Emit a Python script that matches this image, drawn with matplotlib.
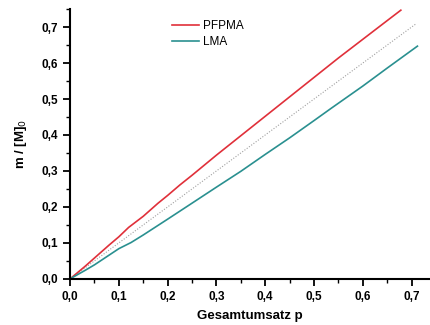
import matplotlib
matplotlib.use("Agg")
import matplotlib.pyplot as plt
from matplotlib.ticker import MultipleLocator, FuncFormatter

plt.rcParams['font.family'] = ['Liberation Sans', 'DejaVu Sans']

p_pfpma = [0.0, 0.03, 0.05, 0.08, 0.10, 0.12, 0.15, 0.18, 0.20, 0.225, 0.25, 0.30, 0.35, 0.40, 0.45, 0.50, 0.55, 0.60, 0.65, 0.678]
m_pfpma = [0.0, 0.034, 0.058, 0.094, 0.117, 0.143, 0.174, 0.210, 0.232, 0.261, 0.288, 0.344, 0.398, 0.452, 0.506, 0.560, 0.614, 0.666, 0.718, 0.747]

p_lma = [0.0, 0.03, 0.05, 0.08, 0.10, 0.125, 0.15, 0.20, 0.245, 0.30, 0.35, 0.40, 0.45, 0.50, 0.535, 0.60, 0.65, 0.712]
m_lma = [0.0, 0.023, 0.039, 0.066, 0.084, 0.101, 0.122, 0.166, 0.206, 0.255, 0.299, 0.346, 0.392, 0.440, 0.474, 0.536, 0.586, 0.647]

p_ref = [0.0, 0.71]
m_ref = [0.0, 0.71]

fig = plt.figure(figsize=(4.3, 3.25), dpi=100)
ax = fig.add_axes([0.163, 0.142, 0.835, 0.83])

ax.plot(p_ref, m_ref, color='#a0a0a0', lw=0.8, ls=(0, (1, 1.5)))
ax.plot(p_pfpma, m_pfpma, color='#e0303a', lw=1.2, label='PFPMA')
ax.plot(p_lma, m_lma, color='#2a9090', lw=1.2, label='LMA')

ax.set_xlim(0, 0.736)
ax.set_ylim(0, 0.75)
ax.xaxis.set_major_locator(MultipleLocator(0.1))
ax.xaxis.set_minor_locator(MultipleLocator(0.05))
ax.yaxis.set_major_locator(MultipleLocator(0.1))
ax.yaxis.set_minor_locator(MultipleLocator(0.05))
fmt = FuncFormatter(lambda v, pos: f"{v:.1f}".replace('.', ','))
ax.xaxis.set_major_formatter(fmt)
ax.yaxis.set_major_formatter(fmt)
for s in ['top', 'right']:
    ax.spines[s].set_visible(False)
for s in ['left', 'bottom']:
    ax.spines[s].set_linewidth(1.5)
ax.tick_params(which='major', direction='out', length=5, width=1.3, labelsize=8.5)
ax.tick_params(which='minor', direction='out', length=3, width=1.0)
for lab in ax.get_xticklabels() + ax.get_yticklabels():
    lab.set_fontweight('bold')

ax.set_xlabel('Gesamtumsatz p', fontsize=9.5, fontweight='bold', labelpad=5)
ax.set_ylabel('m / [M]$_0$', fontsize=9.5, fontweight='bold', labelpad=9)

leg = ax.legend(loc='upper left', bbox_to_anchor=(0.255, 1.0), frameon=False,
                fontsize=8.5, handlelength=2.3, handletextpad=0.3, labelspacing=0.35)

fig.savefig('out.png', dpi=100)
